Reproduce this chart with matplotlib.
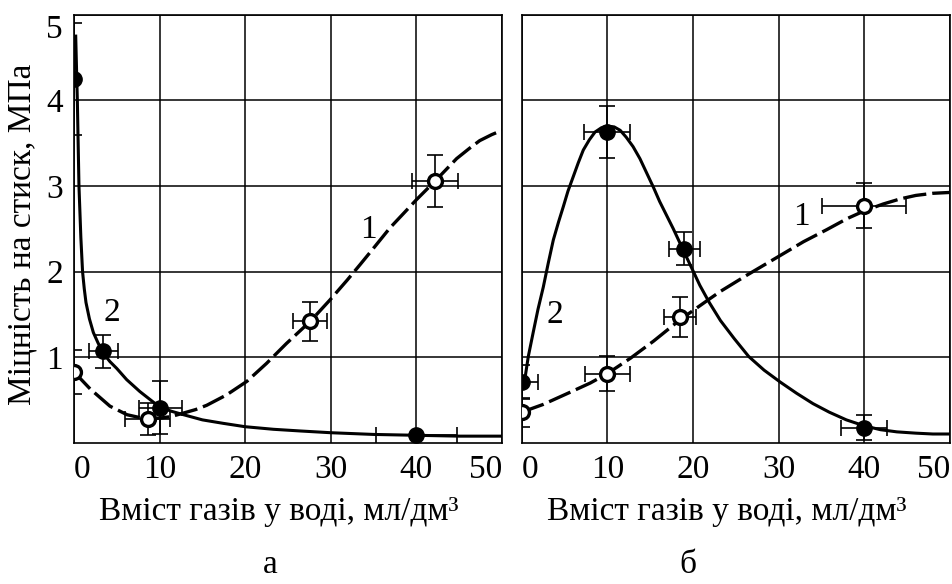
import matplotlib.pyplot as plt

plt.rcParams['font.family'] = ['Liberation Serif', 'DejaVu Serif']
plt.rcParams['font.size'] = 24

# --- панель а: точки ---
a1_x = [0, 8.6, 27.6, 42.2]
a1_y = [0.83, 0.28, 1.42, 3.06]
a1_xerr = [0, 2.6, 2.0, 2.7]
a1_yerr = [0.26, 0.19, 0.23, 0.30]

a2_x = [0, 3.4, 10.1, 40]
a2_y = [4.25, 1.07, 0.41, 0.09]
a2_xerr = [0, 1.7, 2.55, 4.7]
a2_yerr = [0.65, 0.19, 0.31, 0]

# --- панель а: криві ---
a1_cx = [0, 1.9, 4.2, 6.2, 8.0, 10, 11.4, 12.8, 14.2, 15.5, 17.8, 20.2, 22.5,
         24.8, 27.6, 29.9, 31.9, 33.4, 35.2, 36.9, 38.5, 40, 42.2, 44.7, 46.2,
         47.4, 48.8, 50]
a1_cy = [0.83, 0.63, 0.43, 0.33, 0.29, 0.29, 0.31, 0.35, 0.39, 0.44, 0.56, 0.72,
         0.93, 1.16, 1.42, 1.67, 1.90, 2.08, 2.30, 2.51, 2.68, 2.84, 3.06, 3.32,
         3.44, 3.53, 3.60, 3.65]

a2_cx = [0.2, 0.3, 0.39, 0.58, 0.8, 1.0, 1.2, 1.4, 1.8, 2.26, 2.8, 3.4, 4.2,
         5.0, 6.15, 7.7, 10, 11.4, 12.8, 15.0, 17.4, 20, 23.3, 26.5, 30, 35,
         40, 45, 50]
a2_cy = [4.75, 4.35, 4.0, 3.0, 2.4, 2.0, 1.80, 1.64, 1.45, 1.29, 1.17, 1.05,
         0.95, 0.87, 0.74, 0.60, 0.42, 0.37, 0.33, 0.27, 0.23, 0.19, 0.16, 0.14,
         0.12, 0.10, 0.09, 0.08, 0.08]

# --- панель б: точки ---
b1_x = [0, 10, 18.5, 40]
b1_y = [0.36, 0.81, 1.47, 2.77]
b1_xerr = [0, 2.65, 1.9, 4.9]
b1_yerr = [0.17, 0.2, 0.23, 0.26]

b2_x = [0, 10, 19.0, 40]
b2_y = [0.71, 3.63, 2.27, 0.18]
b2_xerr = [1.9, 2.7, 1.8, 2.7]
b2_yerr = [0.2, 0.3, 0.19, 0.15]

# --- панель б: криві ---
b1_cx = [0, 2.5, 5.6, 8.0, 10, 12.7, 15.4, 18.5, 21.9, 23.2, 26.3, 30.2, 32.9,
         35.6, 38.0, 40, 42.2, 44.2, 46.0, 48.0, 50]
b1_cy = [0.36, 0.45, 0.59, 0.70, 0.81, 0.99, 1.19, 1.44, 1.68, 1.77, 1.96, 2.19,
         2.35, 2.49, 2.62, 2.71, 2.79, 2.85, 2.89, 2.915, 2.925]

b2_cx = [0.2, 0.39, 0.77, 1.36, 1.9, 2.52, 3.1, 3.69, 4.3, 4.86, 5.4, 6.02, 6.6,
         7.19, 7.9, 8.56, 9.3, 10, 10.8, 11.5, 12.2, 13.0, 13.8, 14.6, 15.4,
         16.1, 16.9, 17.7, 18.4, 19.1, 20.0, 20.8, 21.9, 23.2, 24.8, 26.5, 28.3,
         30.2, 32.1, 34.0, 35.9, 37.9, 40, 41.9, 43.8, 46.0, 48.0, 50]
b2_cy = [0.72, 0.76, 1.01, 1.30, 1.56, 1.82, 2.10, 2.37, 2.58, 2.76, 2.94, 3.11,
         3.27, 3.42, 3.54, 3.63, 3.68, 3.70, 3.69, 3.65, 3.57, 3.46, 3.32, 3.15,
         2.98, 2.82, 2.66, 2.50, 2.35, 2.20, 2.01, 1.84, 1.64, 1.43, 1.22, 1.01,
         0.85, 0.71, 0.58, 0.46, 0.36, 0.27, 0.20, 0.155, 0.13, 0.115, 0.105,
         0.105]

x_ticks = [0, 10, 20, 30, 40, 50]
y_ticks = [1, 2, 3, 4, 5]
xlab = 'Вміст газів у воді, мл/дм³'

fig = plt.figure(figsize=(9.52, 5.84), dpi=100)
bot = 1 - 443 / 584
h = 428.3 / 584
axA = fig.add_axes([74 / 952, bot, 428 / 952, h])
axB = fig.add_axes([521.7 / 952, bot, 428.3 / 952, h])


def panel(ax, p1, p2, c1, c2):
    ax.set_xlim(0, 50)
    ax.set_ylim(0, 5)
    ax.set_xticks(x_ticks)
    ax.set_yticks(y_ticks)
    ax.grid(True, color='black', lw=1.1)
    ax.set_axisbelow(True)
    for s in ax.spines.values():
        s.set_linewidth(1.2)
    ax.tick_params(length=0, pad=8)
    # криві
    ax.plot(c1[0], c1[1], color='black', lw=2.4, dashes=(7, 1.8), zorder=3)
    ax.plot(c2[0], c2[1], color='black', lw=2.2, zorder=3,
            solid_joinstyle='round')
    # похибки
    for x, y, xe, ye in (p1, p2):
        ax.errorbar(x, y, xerr=xe, yerr=ye, fmt='none', ecolor='black',
                    elinewidth=1.2, capsize=6, capthick=1.2, zorder=4)
    ax.plot(p1[0], p1[1], 'o', ms=10, mfc='white', mec='black', mew=2.4, zorder=5)
    ax.plot(p2[0], p2[1], 'o', ms=11, mfc='black', mec='black', zorder=5)
    labs = ax.get_xticklabels()
    labs[0].set_ha('left')
    labs[-1].set_ha('right')
    ax.set_xlabel(xlab, labelpad=8)
    ax.xaxis.set_label_coords(0.478, -0.125, transform=ax.transAxes)
    ax.xaxis.label.set_va('top')


panel(axA, (a1_x, a1_y, a1_xerr, a1_yerr), (a2_x, a2_y, a2_xerr, a2_yerr),
      (a1_cx, a1_cy), (a2_cx, a2_cy))
panel(axB, (b1_x, b1_y, b1_xerr, b1_yerr), (b2_x, b2_y, b2_xerr, b2_yerr),
      (b1_cx, b1_cy), (b2_cx, b2_cy))

axB.set_yticklabels([])
ylabs = axA.get_yticklabels()
ylabs[-1].set_va('top')

axA.text(34.4, 2.49, '1', ha='center', va='center')
axA.text(4.4, 1.52, '2', ha='center', va='center')
axB.text(32.7, 2.64, '1', ha='center', va='center')
axB.text(3.9, 1.5, '2', ha='center', va='center')

fig.text(22.7 / 952, 1 - 234 / 584, 'Міцність на стиск, МПа', rotation=90,
         ha='center', va='center')
fig.text(270 / 952, 1 - 565 / 584, 'а', ha='center', va='center')
fig.text(688 / 952, 1 - 565 / 584, 'б', ha='center', va='center')

fig.savefig('out.png', dpi=100)
